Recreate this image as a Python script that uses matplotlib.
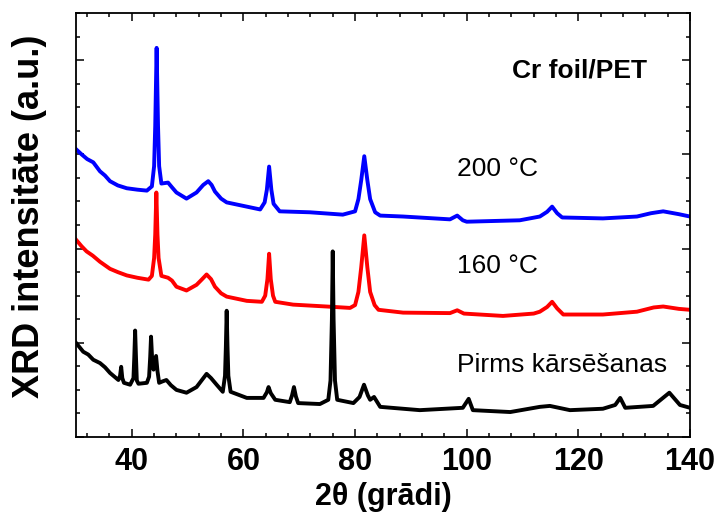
import matplotlib
matplotlib.use("Agg")
import matplotlib.pyplot as plt
from matplotlib.ticker import MultipleLocator, NullFormatter

plt.rcParams['font.family'] = ['Liberation Sans', 'DejaVu Sans']

# 200 °C (blue)
x_200 = [30.0, 31.0, 32.0, 33.1, 34.3, 35.2, 36.1, 37.5, 39.1, 41.0, 42.7, 43.6, 44.0, 44.2,
         44.45, 44.7, 44.9, 45.3, 46.5, 47.2, 48.0, 49.8, 51.6, 52.8, 53.7, 54.3, 54.9, 56.0,
         57.0, 60.6, 63.0, 63.8, 64.2, 64.6, 65.0, 65.4, 66.5, 71.9, 77.8, 80.0, 80.6, 81.1,
         81.65, 82.2, 82.7, 83.6, 84.5, 88.6, 97.0, 98.3, 99.3, 100.0, 109.5, 113.1, 114.4,
         115.3, 116.2, 117.1, 124.4, 130.5, 133.0, 135.2, 138.0, 140.0]
y_200 = [61.1, 60.0, 59.0, 58.3, 56.4, 55.5, 54.3, 53.4, 52.8, 52.5, 52.3, 53.2, 57.5, 66.0,
         82.6, 66.0, 57.5, 53.8, 54.0, 53.0, 51.9, 50.6, 51.9, 53.5, 54.3, 53.5, 52.1, 50.6,
         49.8, 48.9, 48.3, 49.8, 52.5, 57.4, 52.5, 49.5, 47.9, 47.7, 47.2, 47.9, 50.5, 54.5,
         59.6, 54.5, 50.5, 47.7, 47.0, 46.8, 46.2, 47.0, 46.0, 45.7, 46.0, 46.8, 47.8,
         48.9, 47.5, 46.6, 46.4, 46.8, 47.5, 47.9, 47.3, 46.8]

# 160 °C (red)
x_160 = [30.0, 31.0, 31.9, 33.0, 34.3, 36.1, 37.5, 39.1, 41.0, 43.0, 43.6, 44.0, 44.2, 44.4,
         44.6, 44.8, 45.3, 46.5, 47.2, 48.0, 49.8, 51.6, 52.6, 53.4, 54.2, 54.9, 56.0, 57.0,
         60.6, 63.3, 63.9, 64.3, 64.6, 64.9, 65.3, 65.7, 68.9, 74.9, 79.1, 80.0, 80.6, 81.1,
         81.65, 82.2, 82.7, 83.5, 84.2, 88.6, 97.0, 98.3, 99.5, 106.5, 112.0, 113.1, 114.4,
         115.3, 116.2, 117.3, 124.4, 130.5, 133.5, 135.2, 138.0, 140.0]
y_160 = [41.9, 40.5, 39.4, 38.5, 37.2, 35.7, 35.0, 34.3, 33.8, 33.4, 34.2, 38.0, 43.0, 51.9,
         43.0, 38.0, 34.2, 33.8, 33.2, 31.9, 31.1, 32.3, 33.5, 34.5, 33.5, 31.9, 30.5, 29.8,
         28.9, 28.7, 30.0, 33.5, 38.9, 33.5, 30.0, 28.7, 28.1, 27.7, 27.4, 28.0, 30.8, 36.0,
         42.8, 36.0, 30.8, 28.0, 27.0, 26.4, 26.3, 26.9, 26.2, 25.7, 26.2, 26.6, 27.6,
         28.7, 27.3, 26.0, 26.0, 26.6, 27.5, 27.7, 27.2, 27.0]

# Pirms kārsēšanas (black)
x_pre = [30.0, 31.3, 32.2, 33.1, 34.3, 35.2, 36.1, 37.6, 37.9, 38.1, 38.3, 38.6, 39.7, 40.3,
         40.45, 40.6, 40.75, 40.9, 41.2, 42.7, 43.1, 43.3, 43.45, 43.65, 43.9, 44.15, 44.35,
         44.6, 44.9, 45.5, 46.2, 47.0, 48.0, 49.8, 51.6, 52.5, 53.4, 54.2, 55.2, 56.3, 56.7,
         56.85, 57.0, 57.15, 57.3, 57.7, 60.6, 63.6, 64.2, 64.5, 64.9, 65.7, 68.3, 68.7, 69.05,
         69.4, 69.8, 73.7, 75.2, 75.6, 75.85, 76.0, 76.15, 76.4, 76.8, 79.7, 80.8, 81.6, 82.3,
         82.7, 83.4, 84.5, 91.6, 99.3, 100.35, 101.1, 107.8, 113.1, 114.9, 118.5, 124.4,
         126.6, 127.5, 128.4, 133.4, 136.3, 138.2, 140.0]
y_pre = [20.0, 18.1, 17.5, 16.4, 15.7, 14.8, 13.6, 12.1, 13.0, 14.9, 12.5, 11.5, 11.1, 12.5,
         17.0, 22.6, 17.0, 12.0, 11.3, 11.5, 12.8, 17.0, 21.3, 16.5, 14.3, 16.0, 17.2,
         14.0, 11.5, 11.8, 12.1, 11.0, 10.0, 9.4, 10.6, 12.0, 13.4, 12.5, 11.1, 9.6, 13.0,
         19.0, 26.8, 19.0, 13.0, 9.6, 8.3, 8.3, 9.5, 10.6, 9.3, 7.9, 7.4, 8.8, 10.6,
         8.6, 7.2, 7.0, 7.9, 12.0, 25.0, 39.4, 25.0, 12.0, 7.9, 7.2, 8.5, 11.1, 8.8,
         7.9, 8.5, 6.4, 5.7, 6.2, 8.1, 5.7, 5.3, 6.4, 6.6, 5.7, 6.0,
         6.8, 8.3, 6.2, 6.6, 9.4, 6.8, 6.2]

series_labels = ["200 °C", "160 °C", "Pirms kārsēšanas"]
title_text = "Cr foil/PET"
x_ticks = [40, 60, 80, 100, 120, 140]

fig = plt.figure(figsize=(7.18, 5.20), dpi=100)
ax = fig.add_axes([0.1058, 0.1596, 0.8552, 0.8154])

ax.plot(x_200, y_200, color='#0000ff', lw=2.8, solid_joinstyle='round')
ax.plot(x_160, y_160, color='#ff0000', lw=2.8, solid_joinstyle='round')
ax.plot(x_pre, y_pre, color='#000000', lw=2.8, solid_joinstyle='round')

ax.set_xlim(30, 140)
ax.set_ylim(0, 90)
ax.set_xticks(x_ticks)
ax.xaxis.set_minor_locator(MultipleLocator(4))
ax.yaxis.set_major_locator(MultipleLocator(20))
ax.yaxis.set_minor_locator(MultipleLocator(5))
ax.yaxis.set_major_formatter(NullFormatter())
ax.tick_params(which='both', direction='in', top=True, right=True, width=1.1)
ax.tick_params(which='major', length=6)
ax.tick_params(which='minor', length=3)
ax.tick_params(axis='x', which='major', labelsize=22, pad=7)
for lab in ax.get_xticklabels():
    lab.set_fontweight('bold')
for sp in ax.spines.values():
    sp.set_linewidth(1.3)

ax.set_xlabel("2θ (grādi)", fontsize=22, fontweight='bold', labelpad=4)
ax.set_ylabel("XRD intensitāte (a.u.)", fontsize=26, fontweight='bold')
ax.yaxis.set_label_coords(-0.047, 0.52)

ax.text(108.1, 76.4, title_text, fontsize=19, fontweight='bold', ha='left', va='baseline')
ax.text(98.3, 55.3, series_labels[0], fontsize=19, ha='left', va='baseline')
ax.text(98.3, 34.9, series_labels[1], fontsize=19, ha='left', va='baseline')
ax.text(98.3, 13.8, series_labels[2], fontsize=19, ha='left', va='baseline')

fig.savefig("out.png", dpi=100)
